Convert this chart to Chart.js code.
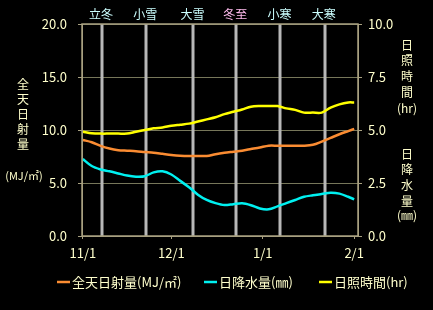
<!DOCTYPE html>
<html>
<head>
<meta charset="utf-8">
<script src="https://cdn.jsdelivr.net/npm/chart.js@4"></script>
<style>
  body { margin: 0; background: #000; }
</style>
</head>
<body>
<canvas id="chart" width="433" height="310"></canvas>
<script>
// days counted from 11/1
const days = [0, 3, 6, 9, 12, 15, 18, 21, 24, 27, 30, 33, 36, 39, 42, 45,
  48, 51, 54, 57, 60, 63, 66, 69, 72, 75, 78, 81, 84, 87, 90, 92];
const radiation = [9.06, 8.85, 8.5, 8.25, 8.1, 8.05, 8.0, 7.92, 7.85, 7.75, 7.65, 7.58,
  7.55, 7.55, 7.55, 7.72, 7.85, 7.95, 8.05, 8.2, 8.35, 8.52, 8.52, 8.52, 8.52, 8.52,
  8.6, 8.9, 9.25, 9.6, 9.9, 10.1];
const rain = [3.63, 3.3, 3.14, 3.05, 2.95, 2.85, 2.8, 2.82, 3.0, 3.05, 2.9, 2.6, 2.3,
  1.95, 1.7, 1.55, 1.46, 1.5, 1.54, 1.45, 1.3, 1.26, 1.4, 1.55, 1.7, 1.85, 1.92, 1.98,
  2.04, 2.0, 1.85, 1.73];
const sunshine = [4.92, 4.85, 4.83, 4.83, 4.83, 4.83, 4.92, 5.0, 5.08, 5.12, 5.2, 5.25,
  5.3, 5.4, 5.5, 5.6, 5.75, 5.86, 5.97, 6.1, 6.13, 6.13, 6.13, 6.02, 5.95, 5.82, 5.82,
  5.82, 6.05, 6.21, 6.3, 6.3];

const monthDays = [0, 30, 61, 92];
const monthLabels = ["11/1", "12/1", "1/1", "2/1"];
const termDays = [6.5, 21.5, 37.5, 52, 67, 82];
const termLabels = ["立冬", "小雪", "大雪", "冬至", "小寒", "大寒"];
const termColors = ["#ccffff", "#ccffff", "#ccffff", "#ffbbee", "#ccffff", "#ccffff"];

const textColor = "#ffffcc";
const jpFont = "'Noto Sans CJK JP', sans-serif";

function toPoints(vals) {
  return days.map((d, i) => ({ x: d, y: vals[i] }));
}

// gray solar-term lines + labels, frame, axis titles, legend
const decorPlugin = {
  id: "decor",
  beforeDatasetsDraw(chart) {
    const ctx = chart.ctx;
    const area = chart.chartArea;
    const xs = chart.scales.x;
    ctx.save();
    ctx.strokeStyle = "#b8b8b8";
    ctx.lineWidth = 3;
    termDays.forEach((d) => {
      const px = Math.round(xs.getPixelForValue(d));
      ctx.beginPath();
      ctx.moveTo(px, area.top);
      ctx.lineTo(px, area.bottom);
      ctx.stroke();
    });
    ctx.restore();
  },
  afterDraw(chart) {
    const ctx = chart.ctx;
    const area = chart.chartArea;
    const xs = chart.scales.x;
    ctx.save();
    ctx.strokeStyle = "#a8a080";
    ctx.lineWidth = 1.5;
    ctx.strokeRect(area.left, area.top, area.right - area.left, area.bottom - area.top);

    ctx.textBaseline = "middle";
    ctx.textAlign = "center";
    ctx.font = "12px " + jpFont;
    termDays.forEach((d, i) => {
      ctx.fillStyle = termColors[i];
      ctx.fillText(termLabels[i], xs.getPixelForValue(d) - 1, 14);
    });

    // vertical axis titles
    ctx.fillStyle = textColor;
    ctx.font = "12px " + jpFont;
    "全天日射量".split("").forEach((c, i) => ctx.fillText(c, 23, 84 + i * 15.2));
    ctx.font = "11px " + jpFont;
    ctx.fillText("(MJ/㎡)", 24, 176);
    ctx.font = "12px " + jpFont;
    "日照時間".split("").forEach((c, i) => ctx.fillText(c, 407, 45 + i * 15.7));
    ctx.fillText("(hr)", 407, 108);
    "日降水量".split("").forEach((c, i) => ctx.fillText(c, 407, 154 + i * 15.7));
    ctx.fillText("(㎜)", 407, 215);

    // legend
    ctx.font = "13px " + jpFont;
    ctx.textAlign = "left";
    const legendX = [57, 204, 319];
    chart.data.datasets.forEach((ds, i) => {
      const x0 = legendX[i];
      ctx.strokeStyle = ds.borderColor;
      ctx.lineWidth = 2.5;
      ctx.beginPath();
      ctx.moveTo(x0, 282);
      ctx.lineTo(x0 + 13, 282);
      ctx.stroke();
      ctx.fillStyle = textColor;
      ctx.fillText(ds.label, x0 + 15, 282);
    });
    ctx.restore();
  }
};

new Chart(document.getElementById("chart"), {
  type: "line",
  data: {
    datasets: [
      {
        label: "全天日射量(MJ/㎡)",
        data: toPoints(radiation),
        borderColor: "#fa8c32",
        yAxisID: "y",
      },
      {
        label: "日降水量(㎜)",
        data: toPoints(rain),
        borderColor: "#00f0f0",
        yAxisID: "y2",
      },
      {
        label: "日照時間(hr)",
        data: toPoints(sunshine),
        borderColor: "#ffff00",
        yAxisID: "y2",
      },
    ],
  },
  options: {
    responsive: false,
    animation: false,
    layout: { padding: { top: 24, left: 0, right: 0, bottom: 0 } },
    elements: {
      line: { borderWidth: 2.5, tension: 0.3, fill: false },
      point: { radius: 0 },
    },
    plugins: {
      legend: { display: false },
      tooltip: { enabled: false },
    },
    scales: {
      x: {
        type: "linear",
        min: -0.3,
        max: 93.3,
        afterBuildTicks(scale) {
          scale.ticks = monthDays.map((v) => ({ value: v }));
        },
        afterFit(scale) {
          scale.height = 74;
        },
        ticks: {
          color: textColor,
          font: { family: jpFont, size: 13 },
          padding: 6,
          maxRotation: 0,
          callback: (v) => monthLabels[monthDays.indexOf(v)],
        },
        grid: { drawOnChartArea: false, color: "#a8a080", tickLength: 3 },
        border: { color: "#a8a080" },
      },
      y: {
        position: "left",
        min: 0,
        max: 20,
        afterFit(scale) {
          scale.width = 82;
        },
        ticks: {
          stepSize: 5,
          color: textColor,
          font: { family: jpFont, size: 13 },
          padding: 11,
          callback: (v) => v.toFixed(1),
        },
        grid: { color: "#77775a", tickLength: 4, tickColor: "#a8a080" },
        border: { color: "#a8a080" },
      },
      y2: {
        position: "right",
        min: 0,
        max: 10,
        afterFit(scale) {
          scale.width = 75;
        },
        ticks: {
          stepSize: 2.5,
          color: textColor,
          font: { family: jpFont, size: 13 },
          padding: 6,
          callback: (v) => v.toFixed(1),
        },
        grid: { drawOnChartArea: false, color: "#a8a080", tickLength: 4 },
        border: { color: "#a8a080" },
      },
    },
  },
  plugins: [decorPlugin],
});
</script>
</body>
</html>
